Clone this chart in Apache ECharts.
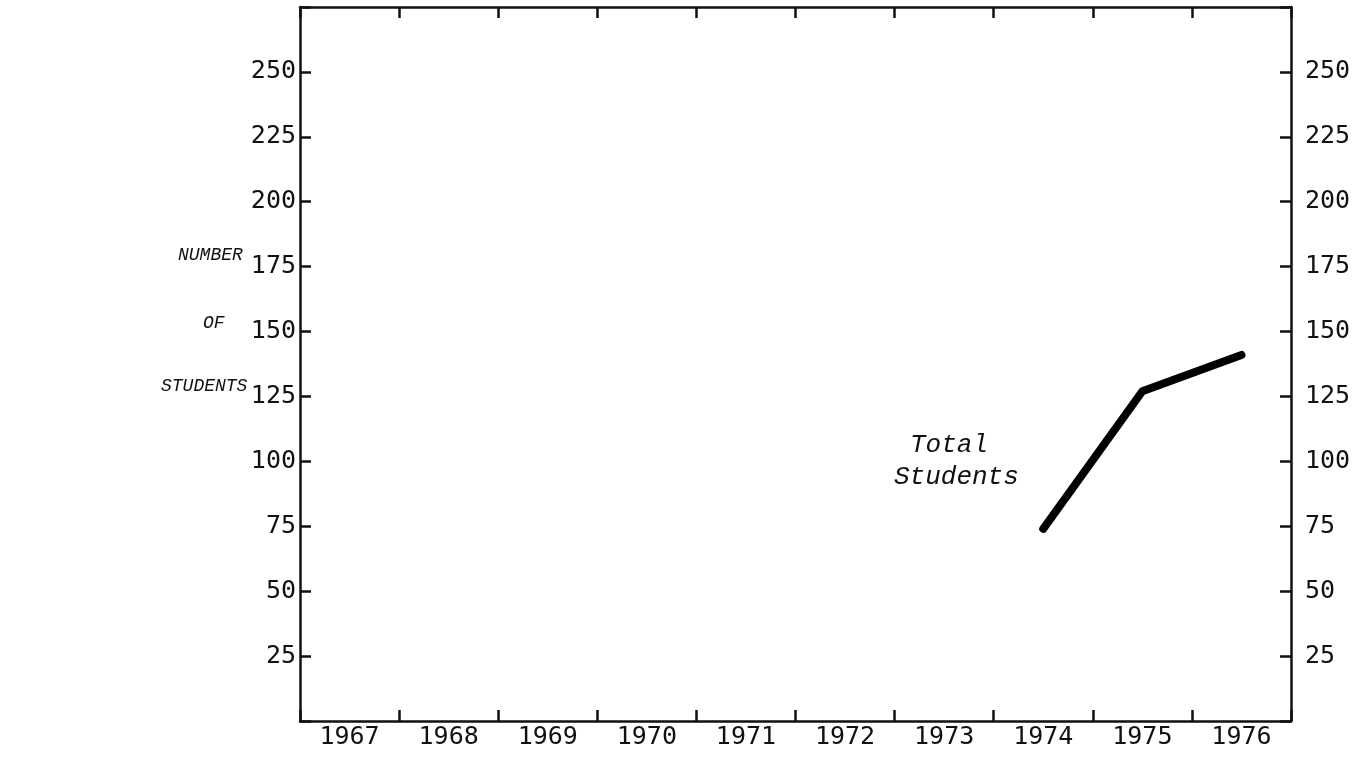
<!DOCTYPE html>
<html>
<head>
<meta charset="utf-8">
<script src="https://cdn.jsdelivr.net/npm/echarts@6/dist/echarts.min.js"></script>
<style>
  html, body { margin: 0; padding: 0; background: #fff; }
  #chart { width: 1372px; height: 762px; }
</style>
</head>
<body>
<div id="chart"></div>
<script>
const years = ['1967', '1968', '1969', '1970', '1971', '1972', '1973', '1974', '1975', '1976'];
const totalStudents = [null, null, null, null, null, null, null, 74, 127, 141];
const yMin = 0;
const yMax = 275;
const yStep = 25;
const yTitleLines = ['NUMBER', 'OF', 'STUDENTS'];
const seriesLabel = ['Total', 'Students'];

const ink = '#111';
const numFont = '"DejaVu Sans Mono", monospace';
const italFont = '"Liberation Mono", monospace';

const chart = echarts.init(document.getElementById('chart'), null, { renderer: 'canvas' });

function yLabel(v) {
  return (v <= yMin || v >= yMax) ? '' : String(v);
}

function line() { return { show: true, onZero: false, lineStyle: { color: ink, width: 2.5 } }; }
function tick(extra) {
  return Object.assign({ show: true, inside: true, length: 11, lineStyle: { color: ink, width: 2.5 } }, extra || {});
}

chart.setOption({
  animation: false,
  backgroundColor: '#fff',
  grid: { left: 300, right: 81, top: 7, bottom: 41, containLabel: false },
  xAxis: [
    {
      type: 'category', data: years, position: 'bottom', boundaryGap: true,
      axisLine: line(), axisTick: tick({ interval: 0 }),
      axisLabel: { color: ink, fontFamily: numFont, fontSize: 25, margin: 4, interval: 0 },
      splitLine: { show: false }
    },
    {
      type: 'category', data: years, position: 'top', boundaryGap: true,
      axisLine: line(), axisTick: tick({ interval: 0 }),
      axisLabel: { show: false }, splitLine: { show: false }
    }
  ],
  yAxis: [
    {
      type: 'value', min: yMin, max: yMax, interval: yStep, position: 'left',
      axisLine: line(), axisTick: tick(),
      axisLabel: { color: ink, fontFamily: numFont, fontSize: 25, margin: 4, formatter: yLabel },
      splitLine: { show: false }
    },
    {
      type: 'value', min: yMin, max: yMax, interval: yStep, position: 'right',
      axisLine: line(), axisTick: tick(),
      axisLabel: { color: ink, fontFamily: numFont, fontSize: 25, margin: 14, formatter: yLabel },
      splitLine: { show: false }
    }
  ],
  series: [
    {
      name: 'Total Students', type: 'line', data: totalStudents,
      xAxisIndex: 0, yAxisIndex: 0,
      showSymbol: false, symbol: 'none',
      lineStyle: { color: '#000', width: 8, cap: 'round', join: 'round' }
    }
  ],
  graphic: [
    { type: 'text', left: 178, top: 246, style: { text: yTitleLines[0], font: 'italic 18px ' + italFont, fill: ink } },
    { type: 'text', left: 203, top: 314, style: { text: yTitleLines[1], font: 'italic 18px ' + italFont, fill: ink } },
    { type: 'text', left: 161, top: 377, style: { text: yTitleLines[2], font: 'italic 18px ' + italFont, fill: ink } },
    { type: 'text', left: 910, top: 432, style: { text: seriesLabel[0], font: 'italic 26px ' + italFont, fill: ink } },
    { type: 'text', left: 894, top: 464, style: { text: seriesLabel[1], font: 'italic 26px ' + italFont, fill: ink } }
  ]
});
</script>
</body>
</html>
